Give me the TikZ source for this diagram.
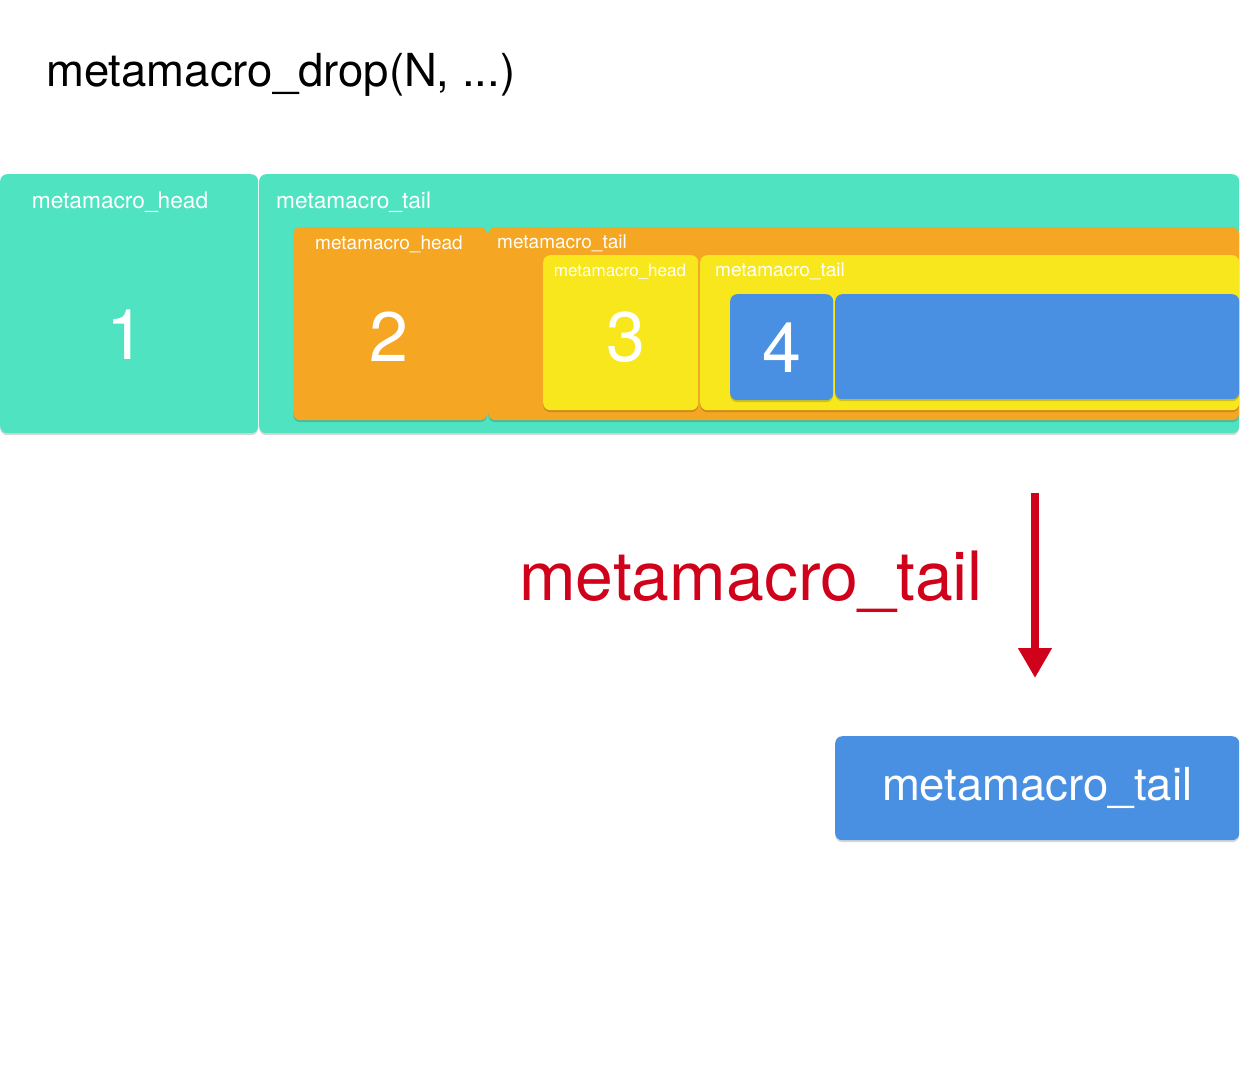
\documentclass[tikz,border=0pt]{standalone}
\usepackage{fontspec}
\setmainfont{TeX Gyre Heros}
\usepackage{tikz}
\usetikzlibrary{calc}
\usetikzlibrary{positioning}
\usetikzlibrary{arrows.meta,shadows}
\definecolor{sketchteal}{HTML}{50E3C2}
\definecolor{sketchorange}{HTML}{F5A623}
\definecolor{sketchyellow}{HTML}{F8E71C}
\definecolor{sketchblue}{HTML}{4A90E2}
\definecolor{sketchred}{HTML}{D0021B}
\newcommand{\fsz}[1]{\fontsize{#1}{#1}\selectfont}
\tikzset{
	kasten/.style={
		rectangle,
		rounded corners=7pt,
		draw=none,
		inner sep=0pt,
		anchor=north west,
		drop shadow={shadow xshift=0pt, shadow yshift=-2pt, opacity=.16, fill=black}},
	beschrift/.style={text=white, inner sep=0pt, font=\fsz{#1}},
	ziffer/.style={text=white, inner sep=0pt, font=\fsz{70}},
	pfeil/.style={draw=sketchred, line width=8pt, -{Triangle[width=32pt,length=30pt]}},
}

\begin{document}
\begin{tikzpicture}[x=1pt,y=-1pt]
	\useasboundingbox (0,0) rectangle (1240,1071);

	\node[anchor=base west, inner sep=0pt, font=\fsz{45.5}] (titel) at (46,86) {metamacro\_drop(N, ...)};

	% first level
	\node[kasten, fill=sketchteal, minimum width=258, minimum height=259] (eins) at (0,174) {};
	\node[kasten, fill=sketchteal, minimum width=980, minimum height=259] (einsrest) at (259,174) {};
	\node[beschrift=22.7] (einskopf) at (120,202) {metamacro\_head};
	\node[beschrift=22.7, anchor=west] (einsschwanz) at (276,202) {metamacro\_tail};
	\node[ziffer] at (126,335) {1};

	% second level
	\node[kasten, fill=sketchorange, minimum width=194, minimum height=193] (zwei) at (293,227) {};
	\node[kasten, fill=sketchorange, minimum width=751, minimum height=193] (zweirest) at (488,227) {};
	\node[beschrift=19] (zweikopf) at (389,244) {metamacro\_head};
	\node[beschrift=19, anchor=west] (zweischwanz) at (497,243) {metamacro\_tail};
	\node[ziffer] at (389,337) {2};

	% third level
	\node[kasten, fill=sketchyellow, minimum width=155, minimum height=155] (drei) at (543,255) {};
	\node[kasten, fill=sketchyellow, minimum width=539, minimum height=155] (dreirest) at (700,255) {};
	\node[beschrift=17] (dreikopf) at (620,272) {metamacro\_head};
	\node[beschrift=19, anchor=west] (dreischwanz) at (715,271) {metamacro\_tail};
	\node[ziffer] at (626,337) {3};

	% fourth level
	\node[kasten, fill=sketchblue, minimum width=103, minimum height=106] (vier) at (730,294) {};
	\node[kasten, fill=sketchblue, minimum width=404, minimum height=105] (vierrest) at (835,294) {};
	\node[ziffer] at (vier.center) {4};

	% result
	\node[anchor=base west, inner sep=0pt, text=sketchred, font=\fsz{68}] (aufruf) at (519,600) {metamacro\_tail};
	\coordinate (pfeiloben) at (1035,493);
	\coordinate (pfeilunten) at (1035,678);
	\draw[pfeil] (pfeiloben) -- (pfeilunten);

	\node[kasten, fill=sketchblue, minimum width=404, minimum height=104] (ergebnis) at (835,736) {};
	\node[beschrift=45.5] at (ergebnis.center) {metamacro\_tail};
\end{tikzpicture}
\end{document}
